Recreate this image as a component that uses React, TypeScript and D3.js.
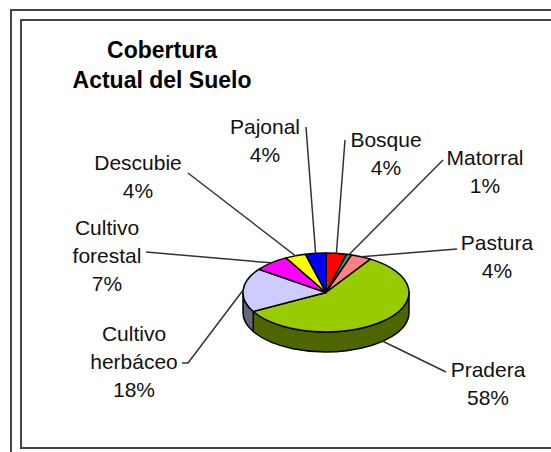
import React from "react";
import * as d3 from "d3";

// datos del gráfico
const categories = ["Bosque", "Matorral", "Pastura", "Pradera", "Cultivo herbáceo", "Cultivo forestal", "Descubie", "Pajonal"];
const shares = [4, 1, 4, 58, 18, 7, 4, 4];
const percentLabels = ["4%", "1%", "4%", "58%", "18%", "7%", "4%", "4%"];
const labelLines = [["Bosque"], ["Matorral"], ["Pastura"], ["Pradera"], ["Cultivo", "herbáceo"], ["Cultivo", "forestal"], ["Descubie"], ["Pajonal"]];
const colors = ["#FF0000", "#339966", "#FF8080", "#99CC00", "#CCCCFF", "#FF00FF", "#FFFF00", "#0000FF"];
const titleLines = ["Cobertura", "Actual del Suelo"];

// posición de cada etiqueta (centro, primera línea base) y de donde sale la guía
const labelLayout = [
  { x: 386, y: 147, ax: 345, ay: 140 },
  { x: 485, y: 165, ax: 443, ay: 160 },
  { x: 497, y: 250, ax: 457, ay: 249 },
  { x: 488, y: 377, ax: 446, ay: 372 },
  { x: 134, y: 341, ax: 182, ay: 363, stub: 6 },
  { x: 107, y: 235, ax: 146, ay: 252 },
  { x: 138, y: 170, ax: 188, ay: 173 },
  { x: 265, y: 134, ax: 306, ay: 127 },
];

const W = 551;
const H = 452;
const cx = 326;
const cy = 292.5;
const rx = 83;
const ry = 39.5;
const depth = 20;
const lineGap = 28;
const font = "Arial, 'Liberation Sans', sans-serif";

const pt = (a: number, dy = 0): [number, number] => [cx + rx * Math.sin(a), cy - ry * Math.cos(a) + dy];

export default function App() {
  const arcs = d3.pie<number>().sort(null).value((d) => d)(shares);
  const arcGen = d3.arc<d3.PieArcDatum<number>>().innerRadius(0).outerRadius(rx);

  // cara lateral, solo la mitad delantera
  const sidePath = (s: number, e: number) => {
    const a0 = Math.max(s, Math.PI / 2);
    const a1 = Math.min(e, (3 * Math.PI) / 2);
    if (a0 >= a1) return null;
    const p0 = pt(a0), p1 = pt(a1), q1 = pt(a1, depth), q0 = pt(a0, depth);
    return `M${p0}A${rx},${ry} 0 0 1 ${p1}L${q1}A${rx},${ry} 0 0 0 ${q0}Z`;
  };

  const half = (c: string) => {
    const r = d3.rgb(c);
    return d3.rgb(r.r * 0.5, r.g * 0.5, r.b * 0.5).formatHex();
  };

  return (
    <svg width={W} height={H} style={{ position: "absolute", left: 0, top: 0, background: "#fff" }}>
      {/* marco doble */}
      <rect x={11} y={10} width={W + 20} height={H + 20} fill="none" stroke="#444" strokeWidth={2} />
      <rect x={21} y={20} width={W + 20} height={428} fill="none" stroke="#444" strokeWidth={2} />

      {titleLines.map((t, i) => (
        <text key={t} x={162} y={58 + i * 30} textAnchor="middle" fontFamily={font} fontWeight="bold" fontSize={23} fill="#000">
          {t}
        </text>
      ))}

      {arcs.map((a, i) => {
        const d = sidePath(a.startAngle, a.endAngle);
        return d ? <path key={"s" + i} d={d} fill={half(colors[i])} stroke="#000" strokeWidth={1.5} strokeLinejoin="round" /> : null;
      })}

      <g transform={`translate(${cx},${cy}) scale(1,${ry / rx})`}>
        {arcs.map((a, i) => (
          <path key={"t" + i} d={arcGen(a) || ""} fill={colors[i]} stroke="#000" strokeWidth={1.5} vectorEffect="non-scaling-stroke" strokeLinejoin="round" />
        ))}
      </g>

      {arcs.map((a, i) => {
        const mid = (a.startAngle + a.endAngle) / 2;
        const front = mid > Math.PI / 2 && mid < (3 * Math.PI) / 2;
        const end = pt(mid, front ? depth : 0);
        const L = labelLayout[i];
        const pts: [number, number][] = [[L.ax, L.ay]];
        if (L.stub) pts.push([L.ax + L.stub, L.ay]);
        pts.push(end);
        return <path key={"l" + i} d={d3.line()(pts) || ""} fill="none" stroke="#333" strokeWidth={1.5} />;
      })}

      {categories.map((c, i) => {
        const L = labelLayout[i];
        const lines = [...labelLines[i], percentLabels[i]];
        return (
          <text key={c} textAnchor="middle" fontFamily={font} fontSize={21} fill="#111">
            {lines.map((s, j) => (
              <tspan key={j} x={L.x} y={L.y + j * lineGap}>
                {s}
              </tspan>
            ))}
          </text>
        );
      })}
    </svg>
  );
}
